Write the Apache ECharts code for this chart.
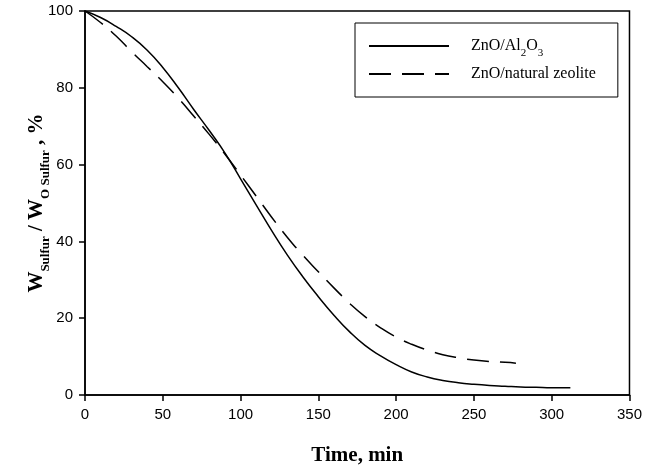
<!DOCTYPE html>
<html>
<head>
<meta charset="utf-8">
<script src="https://cdn.jsdelivr.net/npm/echarts@6/dist/echarts.min.js"></script>
<style>
  html, body { margin: 0; padding: 0; background: #fff; }
  #chart { width: 645px; height: 471px; }
</style>
</head>
<body>
<div id="chart"></div>
<script>
// Remaining sulfur fraction over time for two sorbents
const timeAl2O3 = [0, 10, 20, 30, 40, 50, 60, 70, 80, 90, 100, 110, 120, 130, 140, 150, 160, 170, 180, 190, 200, 210, 220, 230, 240, 250, 260, 270, 280, 290, 300, 312];
const sulfurAl2O3 = [100, 98.3, 96, 93.3, 89.8, 85.3, 80, 74.3, 68.8, 63, 56.3, 49.5, 42.8, 36.5, 30.8, 25.6, 20.8, 16.5, 12.9, 10.2, 7.9, 6.0, 4.7, 3.8, 3.2, 2.8, 2.5, 2.3, 2.1, 2.0, 1.9, 1.9];
const timeZeolite = [0, 10, 20, 30, 40, 50, 60, 70, 80, 90, 100, 110, 120, 130, 140, 150, 160, 170, 180, 190, 200, 210, 220, 230, 240, 250, 260, 270, 277];
const sulfurZeolite = [100, 97, 93.5, 89.4, 85.5, 81.6, 77.3, 72.6, 67.8, 62.7, 57.3, 51.8, 46.3, 41.1, 36.4, 32.1, 27.9, 23.9, 20.4, 17.5, 15.1, 13.2, 11.7, 10.5, 9.7, 9.1, 8.7, 8.5, 8.3];
const seriesNames = ['ZnO/Al2O3', 'ZnO/natural zeolite'];
const xTicks = { min: 0, max: 350, interval: 50 };
const yTicks = { min: 0, max: 100, interval: 20 };

const pairs = (xs, ys) => xs.map((x, i) => [x, ys[i]]);

const chart = echarts.init(document.getElementById('chart'), null, { renderer: 'canvas' });

const serif = '"Liberation Serif", "Times New Roman", serif';
const sans = '"Liberation Sans", Arial, sans-serif';

chart.setOption({
  animation: false,
  backgroundColor: '#fff',
  grid: {
    left: 85, right: 13, top: 11, bottom: 72,
    show: true, borderColor: '#000', borderWidth: 1.5, backgroundColor: 'transparent'
  },
  legend: {
    orient: 'vertical',
    left: 355, top: 23,
    padding: [15, 22, 15, 13],
    borderColor: '#000', borderWidth: 1,
    backgroundColor: '#fff',
    itemWidth: 80, itemHeight: 14, itemGap: 7,
    itemStyle: { opacity: 0 },
    data: seriesNames,
    formatter: name => name === 'ZnO/Al2O3'
      ? '{t|ZnO/Al}{s|2}{t|O}{s|3}'
      : '{t|ZnO/natural zeolite}',
    textStyle: {
      color: '#000',
      padding: [0, 0, 0, 17],
      rich: {
        t: { fontFamily: serif, fontSize: 16, color: '#000', lineHeight: 18, verticalAlign: 'middle' },
        s: { fontFamily: serif, fontSize: 11, color: '#000', lineHeight: 12, verticalAlign: 'bottom', padding: [0, 0, -4, 0] }
      }
    }
  },
  xAxis: {
    type: 'value',
    min: xTicks.min, max: xTicks.max, interval: xTicks.interval,
    name: 'Time, min',
    nameLocation: 'middle',
    nameGap: 50,
    nameTextStyle: { fontFamily: serif, fontWeight: 'bold', fontSize: 21, color: '#000' },
    axisLine: { show: true, lineStyle: { color: '#000', width: 1.5 } },
    axisTick: { show: true, inside: false, length: 6, lineStyle: { color: '#000', width: 1.5 } },
    axisLabel: { color: '#000', fontFamily: sans, fontSize: 15, margin: 12 },
    splitLine: { show: false }
  },
  yAxis: {
    type: 'value',
    min: yTicks.min, max: yTicks.max, interval: yTicks.interval,
    name: '{b|W}{s|Sulfur}{b| / W}{s|O Sulfur}{b| , %}',
    nameLocation: 'middle',
    nameRotate: 90,
    nameGap: 36,
    nameMoveOverlap: false,
    nameTextStyle: {
      color: '#000',
      rich: {
        b: { fontFamily: serif, fontWeight: 'bold', fontSize: 21, color: '#000', lineHeight: 24, verticalAlign: 'middle' },
        s: { fontFamily: serif, fontWeight: 'bold', fontSize: 13, color: '#000', lineHeight: 13, verticalAlign: 'bottom', padding: [0, 0, -3, 0] }
      }
    },
    axisLine: { show: true, lineStyle: { color: '#000', width: 1.5 } },
    axisTick: { show: true, inside: false, length: 6, lineStyle: { color: '#000', width: 1.5 } },
    axisLabel: { color: '#000', fontFamily: sans, fontSize: 15, margin: 12 },
    splitLine: { show: false }
  },
  series: [
    {
      name: seriesNames[0],
      type: 'line',
      data: pairs(timeAl2O3, sulfurAl2O3),
      smooth: 0.5,
      showSymbol: false,
      symbol: 'none',
      lineStyle: { color: '#000', width: 1.5, type: 'solid' },
      itemStyle: { color: '#000' }
    },
    {
      name: seriesNames[1],
      type: 'line',
      data: pairs(timeZeolite, sulfurZeolite),
      smooth: 0.5,
      showSymbol: false,
      symbol: 'none',
      lineStyle: { color: '#000', width: 1.5, type: [22, 11] },
      itemStyle: { color: '#000' }
    }
  ]
});
</script>
</body>
</html>
